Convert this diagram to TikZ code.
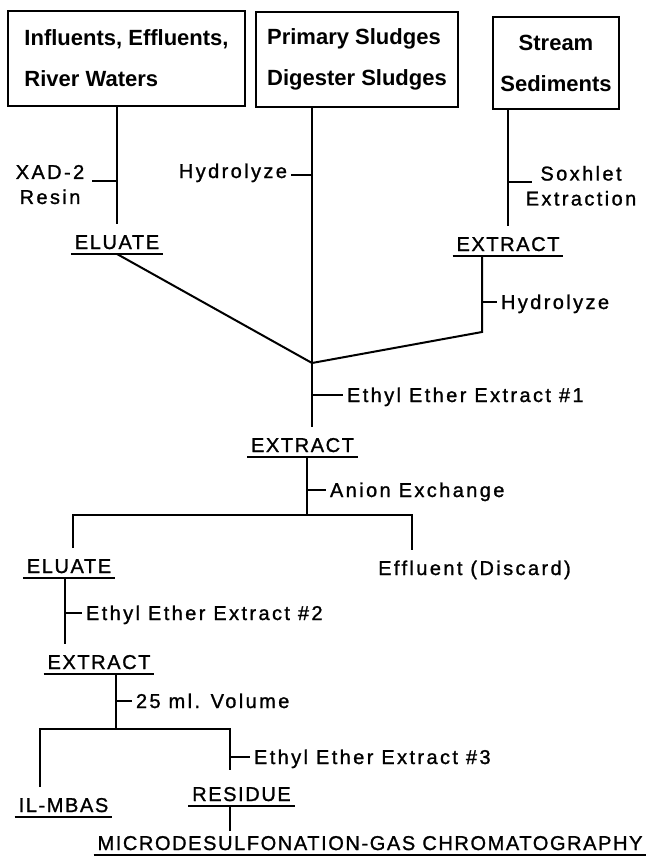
\documentclass[tikz,border=0pt]{standalone}
\usepackage{fontspec}
\setmainfont{Liberation Sans}
\newfontfamily\lblfont{Liberation Sans}[LetterSpace=12, FakeBold=1.2]
\newfontfamily\headfont{Liberation Sans}[LetterSpace=8, FakeBold=1.2]
\usetikzlibrary{positioning}

\begin{document}
\begin{tikzpicture}[x=1pt, y=-1pt, line width=2pt,
    srcbox/.style={draw, line width=2.4pt, inner sep=0pt,
                   font=\bfseries\fontsize{22}{41}\selectfont},
    lbl/.style={font=\lblfont\fontsize{20}{25}\selectfont, inner sep=0pt},
    tick/.style={lbl, text height=14pt, text depth=0pt, inner xsep=3pt},
    head/.style={font=\headfont\fontsize{20}{25}\selectfont, inner xsep=3pt, inner ysep=0pt,
                 text height=24pt, text depth=4pt, anchor=base,
                 append after command={(\tikzlastnode.south west) edge[line width=2pt] (\tikzlastnode.south east)}}
  ]
  \useasboundingbox (0,0) rectangle (651,856);

  % sample sources
  \node[srcbox, minimum width=237pt, minimum height=95pt, align=left] (src1) at (126.5,58.5) {Influents, Effluents,\\River Waters};
  \node[srcbox, minimum width=202pt, minimum height=95pt, align=left] (src2) at (357,59.5) {Primary Sludges\\Digester Sludges};
  \node[srcbox, minimum width=126pt, minimum height=92pt, align=center] (src3) at (556,63) {Stream\\Sediments};

  % intermediate products
  \node[head] (eluA) at (117,249) {ELUATE};
  \node[head] (extR) at (508,251) {EXTRACT};
  \node[head] (extM) at (302.5,452) {EXTRACT};
  \node[head] (eluB) at (69,573) {ELUATE};
  \node[lbl, text height=24pt, text depth=4pt, anchor=base] (eff) at (474.5,575) {Effluent (Discard)};
  \node[head] (extL) at (99,669) {EXTRACT};
  \node[head] (mbas) at (63.5,812) {IL-MBAS};
  \node[head, text height=30pt] (resid) at (241.5,801) {RESIDUE};
  \node[head, text height=18pt] (micro) at (370,850) {MICRODESULFONATION-GAS CHROMATOGRAPHY};

  % bends and branch points
  \coordinate (jn) at (312,363);
  \coordinate (bendR) at (482,332);
  \coordinate (br1) at (307,515);
  \coordinate (br1L) at (73,515);
  \coordinate (br1R) at (412,515);
  \coordinate (br2) at (116,729);
  \coordinate (br2L) at (40,729);
  \coordinate (br2R) at (230,729);

  % ticks on the lines
  \coordinate (tXad) at (116,181);
  \coordinate (tXadE) at (92,181);
  \coordinate (tHydA) at (312,175);
  \coordinate (tSox) at (507,182);
  \coordinate (tSoxE) at (532,182);
  \coordinate (tHydB) at (482,302);
  \coordinate (tEth1) at (312,395);
  \coordinate (tAnion) at (307,490);
  \coordinate (tEth2) at (65,613);
  \coordinate (t25) at (116,701);
  \coordinate (tEth3) at (230,757);

  % step labels
  \node[lbl, align=center, anchor=north] (xad) at (50,164) {XAD-2\\Resin};
  \node[tick, left=21pt of tHydA, yshift=4pt] (hydA) {Hydrolyze};
  \node[lbl, align=center, anchor=north] (sox) at (581,165) {Soxhlet\\Extraction};
  \node[tick, right=15pt of tHydB] (hydB) {Hydrolyze};
  \node[tick, right=31pt of tEth1] (eth1) {Ethyl Ether Extract \#1};
  \node[tick, right=19pt of tAnion] (anion) {Anion Exchange};
  \node[tick, right=17pt of tEth2] (eth2) {Ethyl Ether Extract \#2};
  \node[tick, right=16pt of t25] (vol) {25 ml. Volume};
  \node[tick, right=20pt of tEth3] (eth3) {Ethyl Ether Extract \#3};

  \draw (eluA.north |- src1.south) -- (eluA.north);
  \draw (tXad) -- (tXadE);
  \draw (jn |- src2.south) -- (jn) -- (jn |- extM.north);
  \draw (tHydA) -- (tHydA -| hydA.east);
  \draw (extR.north |- src3.south) -- (extR.north);
  \draw (tSox) -- (tSoxE);
  \draw (eluA.south) -- (jn) -- (bendR) -- (bendR |- extR.south);
  \draw (tHydB) -- (hydB);
  \draw (tEth1) -- (eth1);
  \draw (br1 |- extM.south) -- (br1);
  \draw (tAnion) -- (anion);
  \draw (br1L |- eluB.north) -- (br1L) -- (br1R) -- (br1R |- eff.north);
  \draw (tEth2 |- eluB.south) -- (tEth2 |- extL.north);
  \draw (tEth2) -- (eth2);
  \draw (br2 |- extL.south) -- (br2);
  \draw (t25) -- (vol);
  \draw (br2L |- mbas.north) -- (br2L) -- (br2R) -- (br2R |- resid.north);
  \draw (tEth3) -- (eth3);
  \draw (br2R |- resid.south) -- (br2R |- micro.north);
\end{tikzpicture}
\end{document}
